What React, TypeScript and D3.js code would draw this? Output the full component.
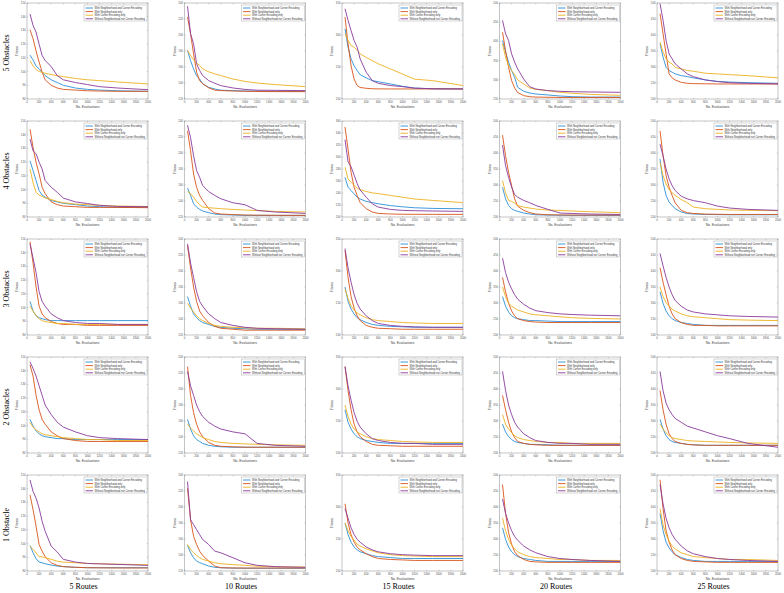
import React from "react";
import * as d3 from "d3";

const EVALS = [50, 100, 150, 200, 250, 300, 400, 500, 600, 800, 1000, 1200, 1500, 2000];
const X_TICKS = [0, 200, 400, 600, 800, 1000, 1200, 1400, 1600, 1800, 2000];
const SERIES_NAMES = [
  "With Neighborhood and Corner Encoding",
  "With Neighborhood only",
  "With Corner Encoding only",
  "Without Neighborhood nor Corner Encoding",
];
const SERIES_COLORS = ["#2b8fd6", "#D95319", "#EDB120", "#8a3a9c"];
const ROW_LABELS = ["5 Obstacles", "4 Obstacles", "3 Obstacles", "2 Obstacles", "1 Obstacle"];
const COL_LABELS = ["5 Routes", "10 Routes", "15 Routes", "20 Routes", "25 Routes"];

// y axis [min, max, step] per row (obstacles) and column (routes)
const Y_AXES_O5 = [[80, 150, 10], [120, 240, 20], [200, 350, 50], [250, 500, 50], [200, 500, 50]];
const Y_AXES_O4 = [[80, 150, 10], [120, 240, 20], [200, 360, 20], [200, 500, 50], [200, 500, 50]];
const Y_AXES_O3 = [[80, 150, 10], [120, 240, 20], [200, 350, 50], [200, 500, 50], [200, 500, 50]];
const Y_AXES_O2 = [[80, 150, 10], [120, 240, 20], [200, 350, 50], [200, 500, 50], [200, 500, 50]];
const Y_AXES_O1 = [[80, 150, 10], [120, 240, 20], [200, 350, 50], [200, 500, 50], [200, 500, 50]];

// series order: blue, orange, yellow, purple
const O5_R5 = [
  [112, 108.5, 104, 102, 99.5, 97, 94, 92, 90, 88, 87, 86.5, 86, 85.6],
  [130.5, 124, 115, 107, 99.5, 94, 90, 88, 87, 86.5, 86, 85.8, 85.6, 85.6],
  [108, 104, 101.5, 100, 99.5, 98.8, 97.8, 97, 96.3, 95, 94, 93.4, 92.4, 91],
  [142, 133.6, 128.8, 120, 111.7, 108, 103.7, 97, 94, 92, 90.5, 89, 88, 86.8],
];
const O5_R10 = [
  [180.7, 168, 157.6, 149, 145, 139, 134.6, 132.5, 131, 130.5, 130, 129.8, 129.6, 129.6],
  [222.5, 201.6, 176.5, 153.5, 143, 139, 134, 131, 130.5, 130, 129.6, 129.4, 129.2, 129.2],
  [180.7, 174.4, 169, 164.8, 162, 157.6, 154, 151.4, 149.3, 145, 142, 140, 138, 135.5],
  [236, 201.6, 189, 164, 155.6, 149.3, 143, 139.7, 136.7, 133.8, 132, 131, 130.8, 130.5],
];
const O5_R15 = [
  [309.7, 281, 262.7, 252, 244.5, 238, 233, 228.7, 227, 223.5, 219.9, 217, 216, 215.7],
  [328, 286, 252, 231, 221, 218, 216.7, 216, 215.8, 215.7, 215.7, 215.7, 215.7, 215.7],
  [302, 291.5, 283.6, 281, 276, 270.5, 265, 260, 255, 247, 239, 231, 228.7, 221],
  [341, 322.8, 307, 291.5, 281, 262.7, 241.8, 228.7, 224.5, 221, 219.3, 217, 216, 215.7],
];
const O5_R20 = [
  [402, 372, 346, 324, 306.6, 280.5, 270, 265.7, 263, 260.5, 257.8, 256, 255, 255],
  [424, 376, 332.7, 298, 278.7, 267, 258.7, 256, 255, 254.5, 254, 254, 254, 254],
  [393.7, 358.8, 337, 324, 313.6, 299.6, 289, 278.7, 275, 271.8, 267.4, 265, 262, 259.6],
  [454.7, 419.8, 402.4, 367.6, 346, 328.4, 302, 282, 276, 271.8, 270, 269, 268.3, 267.4],
];
const O5_R25 = [
  [372.6, 330.8, 299, 289, 283.7, 278.5, 273, 270, 266, 259.6, 255, 253, 251, 249],
  [466.7, 404, 341, 278.5, 266, 259.6, 252, 249, 248, 247.5, 247, 247, 247, 247],
  [378, 346.8, 325.5, 315, 310, 299, 294, 289, 287, 280.5, 278.5, 276, 273, 266],
  [498, 446, 383, 341, 325.5, 310, 294, 278.5, 270, 259.6, 254.4, 251, 249, 247],
];

const O4_R5 = [
  [121, 113.8, 106.6, 99.3, 96, 94.5, 92, 91, 90, 89, 88, 87.5, 87, 87],
  [144, 130.7, 119.9, 111.4, 101.7, 97, 91, 89, 88, 87.5, 87, 87, 87, 86.8],
  [115, 105, 98, 96, 95, 93.8, 92.8, 91.4, 90.4, 89.4, 89, 88.5, 88, 87.7],
  [136.8, 128.3, 126, 120, 115, 106.6, 101.7, 98, 93.8, 91, 89.8, 88.5, 87.7, 87.5],
];
const O4_R10 = [
  [156, 147, 136.6, 132.4, 129.5, 127.5, 125.4, 123.7, 123, 122.5, 122, 122, 122, 122],
  [227.7, 202.8, 173.8, 157, 147, 140.7, 130.4, 125, 123.7, 123, 122.5, 122.3, 122.1, 122],
  [152, 149, 144.8, 139.5, 135.3, 132.4, 131.6, 131, 130.4, 129.5, 128.7, 128, 127, 126.2],
  [234.7, 219.3, 196.6, 178, 169.5, 159.3, 151.7, 147, 142.8, 137.8, 135.3, 128.3, 126.2, 124.5],
];
const O4_R15 = [
  [266, 249.7, 244, 238.6, 233, 230, 226, 224, 222, 219, 217, 215.4, 214.3, 213.8],
  [350, 313, 274.5, 249.7, 235.9, 224, 213.8, 208.3, 206, 205, 204.6, 204.5, 204.4, 204.4],
  [282.8, 263.4, 258, 252.4, 248, 245.8, 242.5, 240.3, 239, 235.9, 233, 230, 227.6, 224],
  [329, 292, 283.6, 269.8, 256, 245, 233, 222, 216.5, 212.7, 211, 210.5, 210, 209.4],
];
const O4_R20 = [
  [293, 256.6, 236, 225.9, 220.7, 217.6, 212.4, 209.3, 207, 206, 205.5, 205, 205, 205],
  [455.7, 391.5, 339.7, 298, 256.6, 234, 220.7, 213.5, 209.3, 207, 206.5, 206, 206, 206],
  [313.9, 275.6, 251.8, 248.7, 243.5, 236, 231, 228, 224.8, 221.7, 220.7, 218.6, 216.5, 213.5],
  [424.6, 360.4, 324, 293, 270, 262, 251.8, 244.5, 236, 223.8, 212.4, 211, 209.3, 208],
];
const O4_R25 = [
  [381, 308.7, 267.3, 246.6, 236, 225.9, 215.5, 211, 209.3, 208, 207.5, 207, 207, 207],
  [469, 391.5, 329, 293, 267.3, 244.5, 220.7, 213.5, 211, 209, 208.5, 208, 208, 208],
  [370.8, 329, 303.5, 286, 275.6, 267.3, 254.8, 244.5, 231, 225.9, 223.8, 222, 220.7, 219.7],
  [427.7, 391.5, 350, 319, 298, 282.8, 265, 256.6, 251.4, 244.5, 234, 228, 223.8, 220.7],
];

const O3_R5 = [
  [104.5, 97.5, 94, 92.6, 91.9, 91.2, 90.5, 90.5, 90.5, 90.5, 90.5, 90.5, 90.5, 90.5],
  [148, 132.5, 115, 101, 95.4, 92.6, 89.8, 88.4, 87.7, 87.7, 87, 87, 87, 87],
  [101, 97.5, 94, 91.9, 90.5, 89.8, 89.1, 88.4, 88.4, 87.7, 87.7, 87.7, 87.7, 87.7],
  [146.5, 136, 125.5, 111.5, 104.5, 101, 95.4, 92.6, 90.5, 89.1, 88.4, 88.4, 87.7, 87.7],
];
const O3_R10 = [
  [168, 156, 146.4, 141.6, 138, 135.6, 133.2, 130.8, 129.6, 128.4, 127.8, 127.2, 127.2, 127.2],
  [231.6, 204, 180, 162, 150, 144, 135.6, 130.8, 128.4, 127.2, 126, 126, 126, 126],
  [159.6, 153.6, 148.8, 144, 140.4, 138, 134.4, 132, 130.8, 129.6, 129, 128.4, 128.4, 127.8],
  [234, 210, 192, 174, 162, 156, 146.4, 140.4, 135.6, 132, 129.6, 128.4, 127.8, 127.2],
];
const O3_R15 = [
  [275, 252.5, 240.5, 233, 227, 224, 219.5, 216.5, 215, 213.5, 212.8, 212, 212, 212],
  [332, 290, 260, 242, 230, 222.5, 215, 212, 210.5, 209.8, 209, 209, 209, 209],
  [272, 257, 245, 239, 234.5, 231.5, 227, 224, 222.5, 221, 219.5, 218.8, 218, 218],
  [335, 305, 282.5, 263, 249.5, 240.5, 230, 222.5, 218, 215, 213.5, 212.8, 212, 212],
];
const O3_R20 = [
  [320, 290, 272, 260, 254, 251, 248, 245, 245, 243.5, 242, 242, 242, 242],
  [380, 335, 299, 275, 260, 251, 245, 242, 240.5, 239, 239, 239, 239, 239],
  [350, 320, 299, 290, 284, 278, 272, 266, 263, 260, 257, 254, 252, 250],
  [440, 395, 365, 344, 326, 312, 296, 284, 276, 270, 266, 264, 262, 260],
];
const O3_R25 = [
  [335, 299, 275, 260, 251, 245, 239, 236, 233, 230, 230, 230, 230, 230],
  [410, 365, 326, 290, 266, 251, 239, 233, 230, 230, 228.5, 228.5, 228.5, 228.5],
  [350, 320, 302, 290, 281, 275, 266, 260, 257, 254, 251, 248, 246.5, 245],
  [455, 416, 380, 350, 326, 308, 290, 278, 272, 266, 263, 260, 258, 256],
];

const O2_R5 = [
  [104.5, 99.6, 96.1, 94, 92.6, 91.9, 91.2, 90.5, 90.5, 89.8, 89.8, 89.8, 89.8, 89.8],
  [144.4, 136, 122, 111.5, 104.5, 101, 95.4, 92.6, 90.5, 89.1, 88.4, 88.4, 88.4, 88.4],
  [102.4, 98.9, 96.8, 95.4, 94, 93.3, 92.6, 91.9, 91.2, 90.5, 89.8, 89.8, 89.1, 89.1],
  [146.5, 141.6, 136, 129, 122, 115, 108, 102.4, 98.9, 95.4, 92.6, 91.2, 90.5, 89.8],
];
const O2_R10 = [
  [162, 150, 141.6, 136.8, 134.4, 132, 129.6, 128.4, 127.8, 127.2, 127.2, 127.2, 127.2, 127.2],
  [228, 192, 170.4, 156, 146.4, 140.4, 133.2, 129.6, 128.4, 127.8, 127.2, 127.2, 127.2, 127.2],
  [156, 151.2, 147.6, 144, 141.6, 139.2, 136.8, 134.4, 133.2, 132, 131.4, 130.8, 130.2, 129.6],
  [222, 204, 192, 180, 171.6, 165.6, 158.4, 153.6, 150, 146.4, 144, 132, 129.6, 128.4],
];
const O2_R15 = [
  [267.5, 248, 237.5, 230, 225.5, 222.5, 219.5, 218, 216.5, 215, 215, 215, 215, 215],
  [335, 297.5, 267.5, 245, 233, 225.5, 218, 213.5, 212, 211.3, 210.5, 210.5, 210.5, 210.5],
  [275, 257, 245, 237.5, 233, 230, 225.5, 222.5, 221, 219.5, 218, 217.3, 216.5, 216.5],
  [335, 305, 282.5, 263, 249.5, 240.5, 230, 222.5, 219.5, 216.5, 215, 215, 213.5, 213.5],
];
const O2_R20 = [
  [290, 266, 251, 242, 236, 233, 230, 227, 227, 225.5, 224, 224, 224, 224],
  [380, 335, 296, 266, 248, 236, 230, 227, 225.5, 224, 224, 224, 224, 224],
  [320, 290, 275, 263, 254, 248, 242, 239, 236, 233, 233, 230, 230, 230],
  [455, 395, 350, 320, 296, 281, 260, 248, 239, 233, 230, 230, 227, 227],
];
const O2_R25 = [
  [305, 275, 254, 242, 236, 233, 230, 227, 225.5, 224, 224, 224, 224, 224],
  [395, 335, 290, 260, 245, 236, 230, 227, 225.5, 224, 224, 224, 224, 224],
  [290, 275, 263, 254, 248, 245, 242, 239, 237.5, 236, 234.5, 233, 231.5, 230],
  [455, 395, 356, 335, 320, 308, 296, 284, 278, 266, 254, 245, 230, 218],
];

const O1_R5 = [
  [98.6, 93.3, 89, 86.5, 86, 85.3, 84.3, 83.6, 83.2, 82.7, 82.4, 82.4, 82.4, 82.4],
  [135.5, 124.7, 112.6, 99.3, 94.5, 90.4, 86, 84.1, 83.2, 82.7, 82.4, 82.3, 82.2, 82.2],
  [98.1, 95.7, 93.3, 90.4, 90.4, 89.7, 88.5, 87.2, 86.5, 86, 85.5, 85.3, 85, 84.6],
  [146.4, 138, 133.1, 125.9, 116.2, 109, 98.1, 93.8, 88.5, 86.5, 85.5, 85.2, 84.8, 84.1],
];
const O1_R10 = [
  [151.9, 142.8, 136.6, 132.4, 130.3, 129.1, 126.2, 124.6, 124.1, 123.6, 123.4, 123.4, 123.4, 123.4],
  [223.4, 184.1, 163.4, 153.1, 144.8, 139.4, 132.4, 126.2, 124.1, 123.8, 123.7, 123.7, 123.7, 123.7],
  [153.1, 146.9, 142.8, 139.4, 136.6, 134.5, 132.4, 130.3, 129.1, 127.9, 127.1, 126, 125.4, 124.9],
  [231.7, 184.1, 178, 171.7, 165.5, 159.4, 153.1, 144.8, 142.8, 136.6, 130.3, 127.1, 125.4, 124.6],
];
const O1_R15 = [
  [275, 257, 245, 237.5, 233, 230, 227, 224, 222.5, 221, 219.5, 219.5, 219.5, 219.5],
  [305, 275, 257, 245, 237.5, 233, 227, 222.5, 219.5, 218, 217.3, 216.5, 216.5, 216.5],
  [275, 263, 254, 248, 242, 239, 234.5, 231.5, 228.5, 225.5, 224, 223.3, 222.5, 222.5],
  [297.5, 282.5, 267.5, 257, 249.5, 245, 237.5, 233, 230, 227, 225.5, 224.8, 224, 224],
];
const O1_R20 = [
  [335, 299, 275, 260, 251, 245, 239, 236, 233, 230, 230, 230, 230, 230],
  [470, 380, 320, 284, 260, 248, 236, 230, 228.5, 227, 227, 227, 227, 227],
  [365, 326, 299, 281, 269, 260, 251, 245, 242, 239, 236, 236, 233, 233],
  [425, 380, 350, 326, 308, 296, 278, 266, 257, 245, 239, 236, 233, 230],
];
const O1_R25 = [
  [380, 326, 290, 272, 260, 251, 242, 236, 233, 230, 230, 230, 230, 230],
  [485, 395, 326, 290, 266, 251, 239, 233, 230, 228.5, 227, 227, 227, 227],
  [395, 344, 314, 293, 278, 269, 257, 251, 245, 242, 239, 236, 236, 233],
  [470, 410, 365, 335, 314, 299, 278, 263, 254, 245, 239, 236, 233, 230],
];

const PANELS = [
  [O5_R5, O5_R10, O5_R15, O5_R20, O5_R25],
  [O4_R5, O4_R10, O4_R15, O4_R20, O4_R25],
  [O3_R5, O3_R10, O3_R15, O3_R20, O3_R25],
  [O2_R5, O2_R10, O2_R15, O2_R20, O2_R25],
  [O1_R5, O1_R10, O1_R15, O1_R20, O1_R25],
];
const Y_AXES = [Y_AXES_O5, Y_AXES_O4, Y_AXES_O3, Y_AXES_O2, Y_AXES_O1];

// layout
const W = 784;
const H = 593;
const COL_X0 = 27;
const COL_STEP = 157.5;
const ROW_Y0 = 3;
const ROW_STEP = 118;
const PW = 121;
const PH = 96;

function Panel({ r, c }: { r: number; c: number }) {
  const x0 = COL_X0 + c * COL_STEP;
  const y0 = ROW_Y0 + r * ROW_STEP;
  const [ymin, ymax, ystep] = Y_AXES[r][c];
  const xs = d3.scaleLinear().domain([0, 2000]).range([x0, x0 + PW]);
  const ys = d3.scaleLinear().domain([ymin, ymax]).range([y0 + PH, y0]);
  const yTicks = d3.range(ymin, ymax + ystep / 2, ystep);
  const line = d3
    .line<number>()
    .x((_, i) => xs(EVALS[i]))
    .y((d) => ys(d));
  const clipId = `clip-${r}-${c}`;
  const lx = x0 + PW - 64;
  const ly = y0 + 2;
  return (
    <g>
      <defs>
        <clipPath id={clipId}>
          <rect x={x0} y={y0} width={PW} height={PH} />
        </clipPath>
      </defs>
      <rect x={x0} y={y0} width={PW} height={PH} fill="#fff" stroke="#8a8a8a" strokeWidth={0.5} />
      {X_TICKS.map((t) => (
        <g key={"x" + t}>
          <line x1={xs(t)} x2={xs(t)} y1={y0 + PH} y2={y0 + PH - 1.2} stroke="#8a8a8a" strokeWidth={0.4} />
          <line x1={xs(t)} x2={xs(t)} y1={y0} y2={y0 + 1.2} stroke="#8a8a8a" strokeWidth={0.4} />
          <text x={xs(t)} y={y0 + PH + 4} fontSize={2.8} fill="#555" textAnchor="middle" fontFamily="Arial, Liberation Sans, sans-serif">
            {t}
          </text>
        </g>
      ))}
      {yTicks.map((t) => (
        <g key={"y" + t}>
          <line x1={x0} x2={x0 + 1.2} y1={ys(t)} y2={ys(t)} stroke="#8a8a8a" strokeWidth={0.4} />
          <line x1={x0 + PW} x2={x0 + PW - 1.2} y1={ys(t)} y2={ys(t)} stroke="#8a8a8a" strokeWidth={0.4} />
          <text x={x0 - 1.5} y={ys(t) + 1} fontSize={2.8} fill="#555" textAnchor="end" fontFamily="Arial, Liberation Sans, sans-serif">
            {t}
          </text>
        </g>
      ))}
      <text x={x0 + PW / 2} y={y0 + PH + 8.5} fontSize={3.4} fill="#444" textAnchor="middle" fontFamily="Arial, Liberation Sans, sans-serif">
        No. Evaluations
      </text>
      <text
        transform={`translate(${x0 - 9},${y0 + PH / 2}) rotate(-90)`}
        fontSize={3.4}
        fill="#444"
        textAnchor="middle"
        fontStyle="italic"
        fontFamily="Times New Roman, Liberation Serif, serif"
      >
        Fitness
      </text>
      <g clipPath={`url(#${clipId})`}>
        {PANELS[r][c].map((s, i) => (
          <path key={i} d={line(s) || ""} fill="none" stroke={SERIES_COLORS[i]} strokeWidth={0.9} strokeLinejoin="round" />
        ))}
      </g>
      <rect x={lx} y={ly} width={63} height={16} fill="#fff" stroke="#9a9a9a" strokeWidth={0.4} />
      {SERIES_NAMES.map((n, i) => (
        <g key={n}>
          <line x1={lx + 1.5} x2={lx + 9} y1={ly + 3 + i * 3.6} y2={ly + 3 + i * 3.6} stroke={SERIES_COLORS[i]} strokeWidth={0.9} />
          <text x={lx + 10.5} y={ly + 3.9 + i * 3.6} fontSize={2.6} fill="#333" fontFamily="Arial, Liberation Sans, sans-serif">
            {n}
          </text>
        </g>
      ))}
    </g>
  );
}

export default function App() {
  return (
    <svg width={W} height={H} style={{ position: "absolute", left: 0, top: 0, background: "#fff" }}>
      <rect width={W} height={H} fill="#fff" />
      {ROW_LABELS.map((lab, r) =>
        COL_LABELS.map((_, c) => <Panel key={`${r}-${c}`} r={r} c={c} />)
      )}
      {ROW_LABELS.map((lab, r) => (
        <text
          key={lab}
          transform={`translate(${9},${ROW_Y0 + r * ROW_STEP + PH / 2 + 2}) rotate(-90)`}
          fontSize={8}
          textAnchor="middle"
          fill="#000"
          fontFamily="Times New Roman, Liberation Serif, serif"
        >
          {lab}
        </text>
      ))}
      {COL_LABELS.map((lab, c) => (
        <text
          key={lab}
          x={COL_X0 + c * COL_STEP + PW / 2 - 4}
          y={589}
          fontSize={8}
          textAnchor="middle"
          fill="#000"
          fontFamily="Times New Roman, Liberation Serif, serif"
        >
          {lab}
        </text>
      ))}
    </svg>
  );
}
